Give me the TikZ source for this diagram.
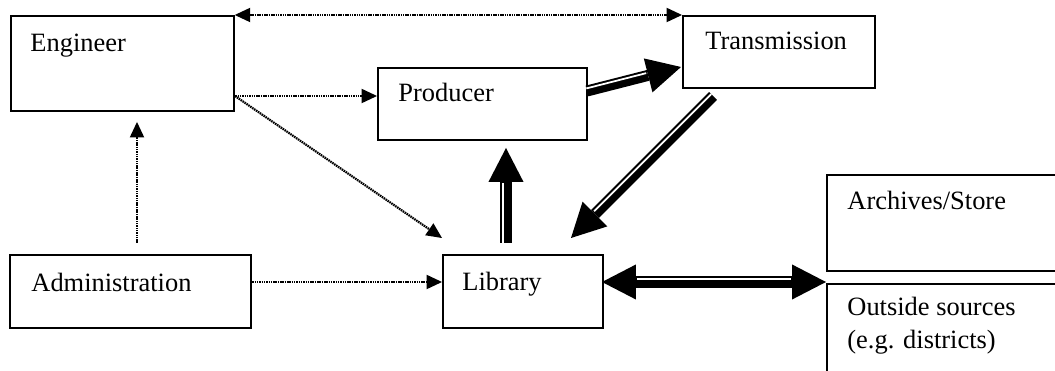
\documentclass[tikz,border=0pt]{standalone}
\usepackage{fontspec}
\setmainfont{Liberation Serif}
\usetikzlibrary{arrows.meta,calc}
\def\u{0.454pt}
\tikzset{
  dottip/.tip={Triangle[length=7pt,width=6.6pt,line width=0pt]},
  fattip/.tip={Triangle[length=15.4pt,width=15.9pt,line width=0pt]}}
\begin{document}
\begin{tikzpicture}[x=0.454pt,y=-0.454pt,
  box/.style={draw, line width=0.8pt, rectangle, inner sep=0pt, anchor=north west},
  lbl/.style={anchor=base west, inner sep=0pt, font=\fontsize{12}{14}\selectfont},
  dotarrow/.style={line width=1pt, dash pattern=on 0.7pt off 0.35pt},
  fat/.style={line width=5pt},
  gap/.style={white, line width=0.8pt}]
\useasboundingbox (0,0) rectangle (1055,371);
\clip (0,0) rectangle (1055,371);

% boxes
\node[box, minimum width={223*\u}, minimum height={95*\u}] (eng) at (10,15) {};
\node[box, minimum width={209*\u}, minimum height={72*\u}] (prod) at (377,67) {};
\node[box, minimum width={192*\u}, minimum height={72*\u}] (trans) at (682,15) {};
\node[box, minimum width={241*\u}, minimum height={73*\u}] (adm) at (9,254) {};
\node[box, minimum width={160*\u}, minimum height={73*\u}] (lib) at (442,254) {};
\node[box, minimum width={300*\u}, minimum height={96*\u}] (arch) at (826,174) {};
\node[box, minimum width={300*\u}, minimum height={200*\u}] (outs) at (826,283) {};

% labels
\node[lbl] (tEng) at (30,52) {Engineer};
\node[lbl] (tProd) at (398,102) {Producer};
\node[lbl] (tTrans) at (705,50) {Transmission};
\node[lbl] (tAdm) at (31,292) {Administration};
\node[lbl] (tLib) at (462,291) {Library};
\node[lbl] (tArch) at (847,210) {Archives/Store};
\node[lbl] (tOuts1) at (847,316) {Outside sources};
\node[lbl] (tOuts2) at (847,349) {(e.g. districts)};

% connector end points
\coordinate (engP) at (233,96);
\coordinate (prodE) at (377,96);
\coordinate (engD) at (235,96);
\coordinate (libD) at (442,238);
\coordinate (admU) at (137,243);
\coordinate (engU) at (137,122);
\coordinate (admR) at (250,282);
\coordinate (libL) at (442,282);
\coordinate (prodR) at (587,91);
\coordinate (transL) at (681,67);
\coordinate (libU) at (506,243);
\coordinate (prodB) at (506,148);
\coordinate (transB) at (713,96);
\coordinate (libT) at (571,238);
\coordinate (libR) at (602,282);
\coordinate (outsL) at (826,282);

% dotted connectors
\draw[dotarrow, dottip-dottip] (eng.north east) -- (trans.north west);
\draw[dotarrow, -dottip] (engP) -- (prodE);
\draw[dotarrow, -dottip] (engD) -- (libD);
\draw[dotarrow, -dottip] (admU) -- (engU);
\draw[dotarrow, -dottip] (admR) -- (libL);

% thick compound connectors
\draw[fat, -fattip] (prodR) -- (transL);
\draw[gap, shorten >=16pt] ($(prodR)!1.2pt!90:(transL)$) -- ($(transL)!1.2pt!-90:(prodR)$);

\draw[fat, -fattip] (libU) -- (prodB);
\draw[gap, shorten >=16pt] ($(libU)!1.2pt!90:(prodB)$) -- ($(prodB)!1.2pt!-90:(libU)$);

\draw[fat, -fattip] (transB) -- (libT);
\draw[gap, shorten >=16pt] ($(transB)!1.2pt!-90:(libT)$) -- ($(libT)!1.2pt!90:(transB)$);

\draw[fat, fattip-fattip] (libR) -- (outsL);
\draw[gap, shorten >=16pt, shorten <=16pt] ($(libR)!1.2pt!90:(outsL)$) -- ($(outsL)!1.2pt!-90:(libR)$);
\end{tikzpicture}
\end{document}
